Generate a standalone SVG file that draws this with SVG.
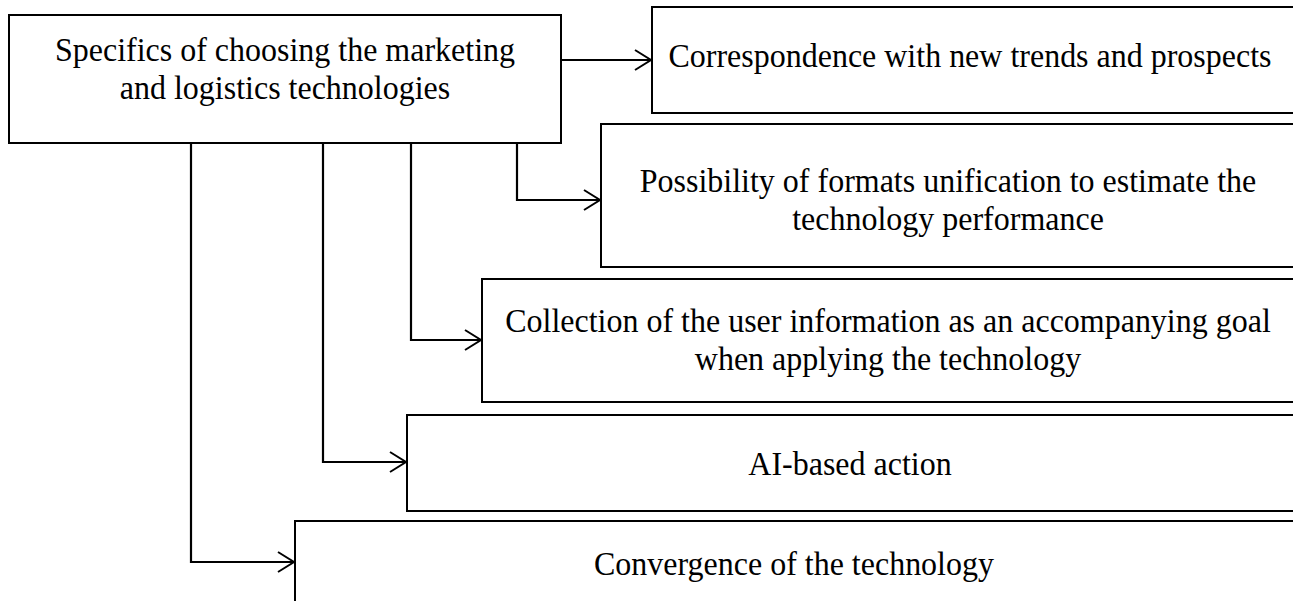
<svg xmlns="http://www.w3.org/2000/svg" width="1293" height="601" viewBox="0 0 1293 601">
<style>
.box{fill:#fff;stroke:#000;stroke-width:2}
.t{font-family:"Liberation Serif","Times New Roman",serif;font-size:34px;fill:#000;text-anchor:middle}
.c{fill:none;stroke:#000;stroke-width:2.2}
</style>
<defs>
<marker id="arr" markerUnits="userSpaceOnUse" markerWidth="20" markerHeight="24" refX="17" refY="11" orient="auto">
<path d="M1,1 L17,11 L1,21" fill="none" stroke="#000" stroke-width="2"/>
</marker>
</defs>
<rect width="1293" height="601" fill="#fff"/>
<g id="main">
<rect class="box" x="9" y="15" width="552" height="128"/>
<text class="t" transform="translate(285,61) scale(0.941,1)"><tspan x="0" y="0">Specifics of choosing the marketing</tspan><tspan x="0" dy="38">and logistics technologies</tspan></text>
</g>
<g id="n1">
<rect class="box" x="652" y="7" width="660" height="106"/>
<text class="t" transform="translate(970,67) scale(0.941,1)">Correspondence with new trends and prospects</text>
</g>
<g id="n2">
<rect class="box" x="601" y="124" width="710" height="143"/>
<text class="t" transform="translate(948,192) scale(0.941,1)"><tspan x="0" y="0">Possibility of formats unification to estimate the</tspan><tspan x="0" dy="38">technology performance</tspan></text>
</g>
<g id="n3">
<rect class="box" x="482" y="279" width="830" height="123"/>
<text class="t" transform="translate(888,332) scale(0.941,1)"><tspan x="0" y="0">Collection of the user information as an accompanying goal</tspan><tspan x="0" dy="38">when applying the technology</tspan></text>
</g>
<g id="n4">
<rect class="box" x="407" y="415" width="905" height="96"/>
<text class="t" transform="translate(850,475) scale(0.941,1)">AI-based action</text>
</g>
<g id="n5">
<rect class="box" x="295" y="521" width="1010" height="100" stroke="#333"/>
<text class="t" transform="translate(794,575) scale(0.941,1)">Convergence of the technology</text>
</g>
<g id="connectors">
<path class="c" d="M561,60 H651" marker-end="url(#arr)"/>
<path class="c" d="M517,143 V200 H600" marker-end="url(#arr)"/>
<path class="c" d="M411,143 V340 H481" marker-end="url(#arr)"/>
<path class="c" d="M323,143 V462 H406" marker-end="url(#arr)"/>
<path class="c" d="M191,143 V562 H294" marker-end="url(#arr)"/>
</g>
</svg>
